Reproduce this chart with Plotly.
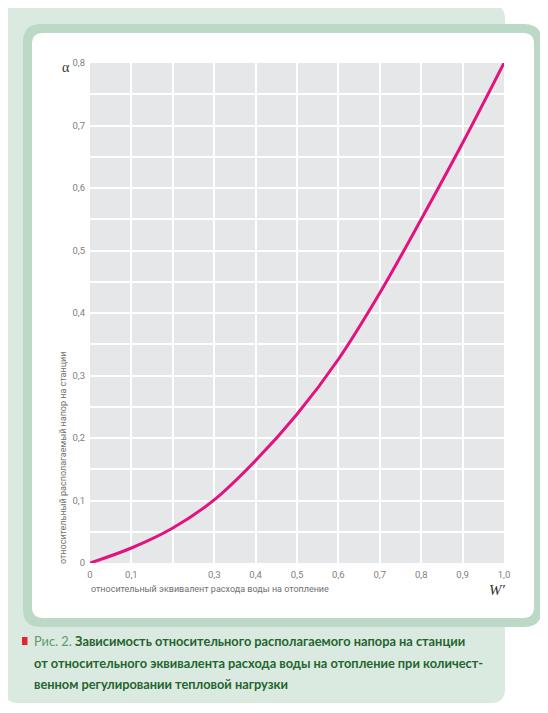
import plotly.graph_objects as go

# relative water flow equivalent W' and relative available pressure alpha
w_rel = [0.0, 0.1, 0.2, 0.3, 0.4, 0.5, 0.6, 0.7, 0.8, 0.9, 1.0]
alpha = [0.0, 0.024, 0.056, 0.101, 0.164, 0.238, 0.326, 0.432, 0.550, 0.672, 0.8]

x_tickvals = [0, 0.1, 0.2, 0.3, 0.4, 0.5, 0.6, 0.7, 0.8, 0.9, 1.0]
x_ticktext = ["0", "0,1", "", "0,3", "0,4", "0,5", "0,6", "0,7", "0,8", "0,9", "1,0"]
y_tickvals = [0, 0.1, 0.2, 0.3, 0.4, 0.5, 0.6, 0.7, 0.8]
y_ticktext = ["0", "0,1", "0,2", "0,3", "0,4", "0,5", "0,6", "0,7", "0,8"]

caption_lines = [
    "Зависимость относительного располагаемого напора на станции",
    "от относительного эквивалента расхода воды на отопление при количест-",
    "венном регулировании тепловой нагрузки",
]

# the page puts the figure 8px in from the corner, so size it to fit
OFF = 8
W, H = 548 - OFF, 713 - OFF
L, R, T, B = 90, 504, 63, 563  # plot area, page pixels
PW, PH = R - L, B - T


def px(x):
    return (x - L) / PW


def py(y):
    return (B - y) / PH


def rounded_rect(x0, y0, x1, y1, r):
    # page pixel box -> paper-coordinate svg path with rounded corners
    rx, ry = r / PW, r / PH
    a, b, c, d = px(x0), py(y1), px(x1), py(y0)  # left, bottom, right, top
    return (
        f"M{a + rx},{d} L{c - rx},{d} Q{c},{d} {c},{d - ry} "
        f"L{c},{b + ry} Q{c},{b} {c - rx},{b} "
        f"L{a + rx},{b} Q{a},{b} {a},{b + ry} "
        f"L{a},{d - ry} Q{a},{d} {a + rx},{d} Z"
    )


fig = go.Figure()

fig.add_trace(
    go.Scatter(
        x=w_rel,
        y=alpha,
        mode="lines",
        line=dict(color="#e2127f", width=3, shape="spline", smoothing=1),
        showlegend=False,
        hoverinfo="skip",
    )
)

shapes = [
    dict(type="path", path=rounded_rect(4, 5, 505, 703, 14),
         fillcolor="#dbeae0", line=dict(width=0)),
    dict(type="path", path=rounded_rect(23, 24, 542, 627, 18),
         fillcolor="#bcd8c7", line=dict(width=0)),
    dict(type="path", path=rounded_rect(32, 33, 534, 618, 11),
         fillcolor="#ffffff", line=dict(width=0)),
    dict(type="rect", x0=0, x1=1, y0=0, y1=1,
         fillcolor="#e6e7e8", line=dict(width=0)),
    dict(type="rect", x0=px(22), x1=px(27.5), y0=py(645), y1=py(637),
         fillcolor="#e3262e", line=dict(width=0)),
]
for s in shapes:
    s.update(xref="paper", yref="paper", layer="below")

label_font = dict(family="Roboto, sans-serif", size=9, color="#707070")
caption_font = dict(family="Lato, Roboto, sans-serif", size=12.8, color="#23652f")

annotations = [
    dict(text="α", x=px(66), y=py(67), xanchor="center", yanchor="middle",
         font=dict(family="Liberation Serif, serif", size=14, color="#333333")),
    dict(text="<i>W′</i>", x=px(497), y=py(590), xanchor="center", yanchor="middle",
         font=dict(family="Liberation Serif, serif", size=15, color="#333333")),
    dict(text="относительный эквивалент расхода воды на отопление",
         x=px(89), y=py(589), xanchor="left", yanchor="middle", font=label_font),
    dict(text="относительный располагаемый напор на станции",
         x=px(63), y=py(566), xanchor="center", yanchor="bottom", textangle=-90,
         font=label_font),
    dict(text="<span style='color:#5c9c6c'>Рис. 2.</span> <b>" + caption_lines[0] + "</b>",
         x=px(32), y=py(641), xanchor="left", yanchor="middle", font=caption_font),
    dict(text="<b>" + caption_lines[1] + "</b>",
         x=px(32), y=py(662.5), xanchor="left", yanchor="middle", font=caption_font),
    dict(text="<b>" + caption_lines[2] + "</b>",
         x=px(32), y=py(684), xanchor="left", yanchor="middle", font=caption_font),
]
for a in annotations:
    a.update(xref="paper", yref="paper", showarrow=False)

fig.update_layout(
    width=W,
    height=H,
    margin=dict(l=L - OFF, r=W - (R - OFF), t=T - OFF, b=H - (B - OFF), pad=0),
    paper_bgcolor="#ffffff",
    plot_bgcolor="rgba(0,0,0,0)",
    shapes=shapes,
    annotations=annotations,
    showlegend=False,
)

tick_font = dict(family="Roboto, sans-serif", size=9.5, color="#808080")

fig.update_xaxes(
    range=[0, 1],
    tickvals=x_tickvals,
    ticktext=x_ticktext,
    showgrid=True,
    gridcolor="#ffffff",
    gridwidth=1.5,
    zeroline=False,
    showline=False,
    ticks="",
    tickfont=tick_font,
    ticklabelstandoff=4,
)
fig.update_yaxes(
    range=[0, 0.8],
    tickvals=y_tickvals,
    ticktext=y_ticktext,
    showgrid=True,
    gridcolor="#ffffff",
    gridwidth=1.5,
    minor=dict(dtick=0.05, tick0=0, showgrid=True, gridcolor="#ffffff", gridwidth=1.5),
    zeroline=False,
    showline=False,
    ticks="",
    tickfont=tick_font,
    ticklabelstandoff=4,
)

fig.write_html("out.html")
